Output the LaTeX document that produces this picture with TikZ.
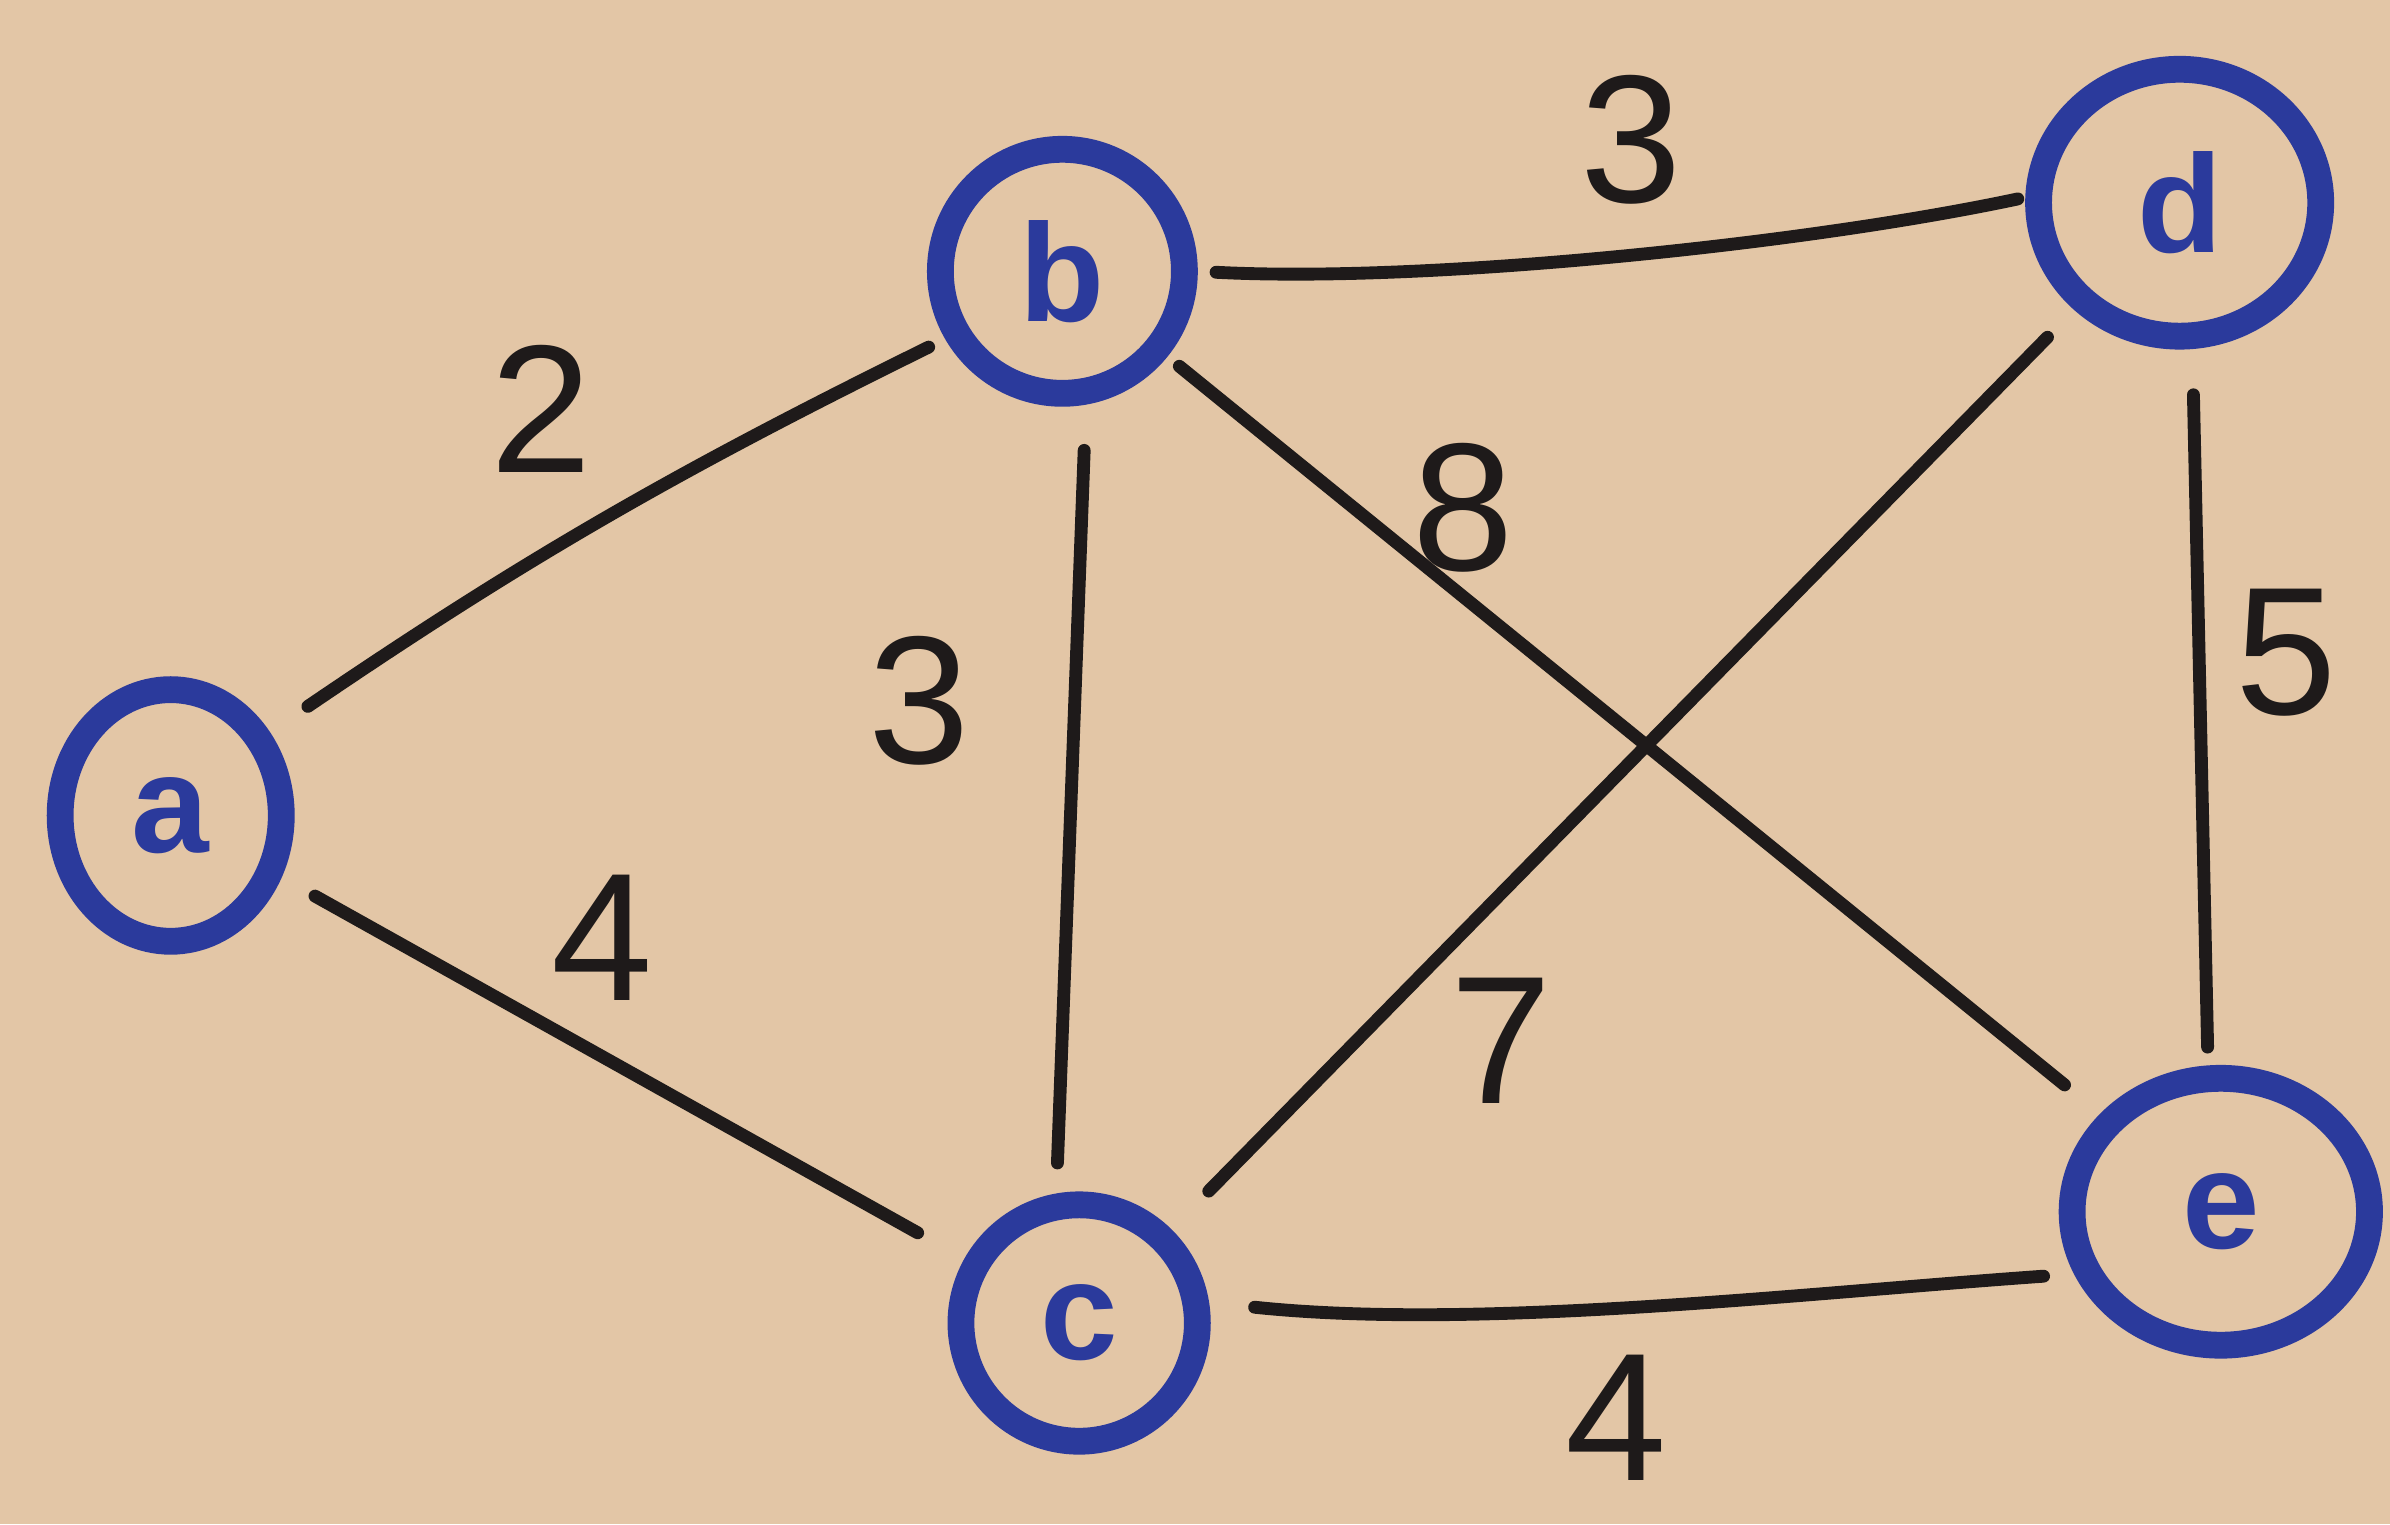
\documentclass[tikz,border=0pt]{standalone}
\usepackage{fontspec}
\usetikzlibrary{shapes.geometric}
\setmainfont{Liberation Sans}
\definecolor{paper}{HTML}{E3C6A6}
\definecolor{ink}{HTML}{2B3A9C}
\definecolor{pen}{HTML}{1E1A1A}
\begin{document}
\begin{tikzpicture}[x=0.01cm,y=-0.01cm,
  vtx/.style={circle,draw=ink,line width=5pt,text=ink,inner sep=0pt,
    font=\fontsize{26}{26}\selectfont\bfseries},
  edge/.style={draw=pen,line width=2.4pt,line cap=round},
  wt/.style={text=pen,font=\fontsize{34}{34}\selectfont}]
\fill[paper] (0,0) rectangle (1568,1000);
\useasboundingbox (0,0) rectangle (1568,1000);
\node[vtx,ellipse,minimum width=1.45cm,minimum height=1.65cm] (a) at (112,535) {a};
\node[vtx,minimum size=1.6cm] (b) at (697,178) {b};
\node[vtx,minimum size=1.55cm] (c) at (708,868) {c};
\node[vtx,ellipse,minimum width=1.85cm,minimum height=1.75cm] (d) at (1430,133) {d};
\node[vtx,ellipse,minimum width=1.95cm,minimum height=1.75cm] (e) at (1457,795) {e};
% edges
\draw[edge,shorten <=0.3cm,shorten >=0.12cm] (a.40) to[bend left=4] (b.210);
\draw[edge,shorten <=0.12cm,shorten >=0.05cm] (b.0) to[out=-3,in=192,looseness=0.7] (d.178);
\draw[edge,shorten <=0.3cm,shorten >=0.2cm] (b.-80) -- (c.100);
\draw[edge,shorten <=0.1cm,shorten >=0.3cm] (b) -- (e);
\draw[edge,shorten <=0.25cm,shorten >=0.35cm] (d) -- (c);
\draw[edge,shorten <=0.3cm,shorten >=0.12cm] (d.-85) -- (e.95);
\draw[edge,shorten <=0.25cm,shorten >=0.35cm] (a) -- (c);
\draw[edge,shorten <=0.3cm,shorten >=0.2cm] (c.9) to[out=-6,in=184,looseness=0.8] (e.203);
% weights
\node[wt] (w1) at (355,268) {2};
\node[wt] (w2) at (1070,92) {3};
\node[wt] (w3) at (960,333) {8};
\node[wt] (w4) at (603,460) {3};
\node[wt] (w5) at (1500,428) {5};
\node[wt] (w6) at (395,615) {4};
\node[wt] (w7) at (985,683) {7};
\node[wt] (w8) at (1060,930) {4};
\end{tikzpicture}
\end{document}
